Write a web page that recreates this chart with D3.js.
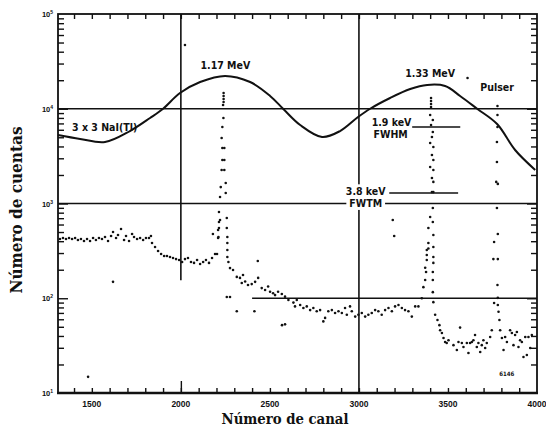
<!DOCTYPE html>
<html>
<head>
<meta charset="utf-8">
<script src="https://d3js.org/d3.v7.min.js"></script>
<style>
body { margin: 0; background: #fff; }
</style>
</head>
<body>
<svg id="chart" width="546" height="438"></svg>
<script>
// channel / counts
var xLabels = [1500, 2000, 2500, 3000, 3500, 4000];
var decades = [1, 2, 3, 4, 5];

// 3x3 NaI(Tl) response, smooth line
var naiCurve = [
  [1310, 5280], [1434, 4800], [1574, 4460], [1714, 5820], [1827, 7990],
  [1900, 10000], [1995, 14650], [2108, 19140], [2248, 22200], [2389, 19140],
  [2501, 13650], [2574, 10000], [2670, 6730], [2793, 5030], [2894, 5820],
  [2995, 8180], [3063, 10000], [3175, 12980], [3288, 16140], [3383, 17830],
  [3484, 17380], [3568, 13650], [3664, 10000], [3776, 6900], [3877, 3670],
  [3990, 2260]
];

// HPGe points
var continuum = [
  [1321,422],[1338,432],[1355,422],[1372,432],[1389,422],[1406,432],[1422,412],[1439,422],
  [1456,402],[1473,422],[1490,402],[1507,432],[1523,412],[1540,432],[1557,422],[1574,443],
  [1591,402],[1608,454],[1619,500],[1636,432],[1647,465],[1664,538],[1681,412],[1692,454],
  [1709,402],[1726,476],[1737,443],[1754,422],[1771,432],[1788,412],[1804,432],[1821,432],
  [1832,454],[1838,383],[1855,348],[1872,315],[1889,293],[1906,279],[1922,279],[1939,272],
  [1956,266],[1973,259],[1990,253],[2007,241],[2023,259],[2040,266],[2057,241],[2074,236],
  [2091,253],[2108,230],[2125,241],[2141,253],[2158,236],[2175,266],[2192,293],[2203,293],
  [2180,476],[2214,638],[2209,525],[2209,432],
  [2276,208],[2293,199],[2314,168],[2332,164],[2349,176],[2342,145],[2361,150],[2377,138],
  [2398,141],[2417,149],[2434,164],[2432,247],[2454,128],[2473,122],[2490,133],[2501,117],
  [2518,113],[2529,108],[2546,117],[2567,111],[2585,104],[2604,96],[2632,90],[2651,96],
  [2641,82],[2670,85],[2688,79],[2707,82],[2726,75],[2744,79],[2763,73],[2782,75],
  [2800,57],[2810,62],[2828,73],[2848,75],[2866,70],[2885,73],[2904,70],[2922,79],
  [2932,67],[2950,82],[2960,73],[2979,64],[2997,67],[3016,70],[3035,64],[3053,67],
  [3072,70],[3091,75],[3109,73],[3128,67],[3147,75],[3166,79],[3185,73],[3203,82],
  [3222,85],[3241,79],[3259,75],[3278,73],[3297,64],[3316,82],[3334,82],[3353,100],
  [3428,67],[3441,59],[3452,52],[3456,46],[3466,43],[3475,38],[3484,34.5],[3493,33.7],
  [3503,36],[3531,32],[3550,28.4],[3559,34.5],[3568,49],[3578,33.7],[3587,30.6],[3606,33.7],
  [3615,26.4],[3624,33.7],[3634,34.5],[3643,36],[3652,41],[3662,30.6],[3671,33.7],[3681,27.1],
  [3690,32],[3699,36],[3709,29.8],[3718,33.7],[3737,39],[3746,46],
  [3793,46],[3803,38],[3812,28.4],[3821,39],[3831,34.5],[3849,46],[3859,43],[3868,32],
  [3877,41],[3887,44],[3896,30.6],[3905,36],[3915,34.5],[3924,24],[3934,39],[3943,25.2],
  [3952,39],[3962,29.8],[3971,41]
];

var peak117 = [
  [2240,14650],[2240,13650],[2240,12680],[2240,11780],[2237,10960],[2239,7990],[2233,6410],
  [2229,4910],[2233,3850],[2244,3850],[2233,2880],[2244,2880],[2229,2260],[2244,2260],
  [2224,1490],[2252,1645],[2220,1170],[2252,1290],[2214,813],[2220,670],[2258,703],
  [2214,551],[2258,551],[2211,443],[2261,443],[2261,383],[2261,323],[2261,272],[2267,241]
];

var peak133 = [
  [3405,12980],[3405,12070],[3405,11220],[3405,10430],[3400,8590],[3415,7600],[3405,6730],
  [3415,5690],[3410,5030],[3400,4350],[3418,3950],[3410,3250],[3418,2880],[3400,2430],
  [3418,2260],[3410,1860],[3418,1690],[3410,1320],[3418,1320],[3415,898],[3400,720],
  [3415,638],[3390,551],[3418,465],[3390,383],[3418,348],[3381,323],[3418,272],[3381,253],
  [3418,236],[3377,189],[3415,189],[3372,156],[3415,156],[3362,131],[3415,116],[3418,91],
  [3372,210],[3381,286],[3390,335]
];

var pulser = [
  [3778,10690],[3778,8590],[3778,6410],[3775,4460],[3775,2740],[3771,1690],[3780,1610],
  [3775,898],[3780,476],[3759,393],[3755,259],[3780,259],[3778,138],[3759,89],[3780,101],
  [3780,85],[3784,72],[3789,59]
];

var strays = [
  [2258,103],[2276,103],[2314,73],[2413,73],[2568,52],[2585,53],[1479,14.8],[1619,149],
  [2023,47100],[3610,21100],[3190,670],[3198,454]
];

var fwhmSpan = [3299, 3569], fwhmLevel = 6410;
var fwtmSpan = [3158, 3557], fwtmLevel = 1290;

var svg = d3.select('#chart');
var x = d3.scaleLinear().domain([1310, 4000]).range([58, 537]);
var y = d3.scaleLog().domain([10, 100000]).range([393, 14]);

svg.append('rect').attr('width', 546).attr('height', 438).attr('fill', '#fff');

var ink = '#111';
var sw = 1.6;

// grid lines
function hline(v, c0, c1) {
  svg.append('line')
     .attr('x1', x(c0)).attr('x2', x(c1))
     .attr('y1', y(v)).attr('y2', y(v))
     .attr('stroke', ink).attr('stroke-width', sw);
}
function vline(c, v0, v1) {
  svg.append('line')
     .attr('x1', x(c)).attr('x2', x(c))
     .attr('y1', y(v0)).attr('y2', y(v1))
     .attr('stroke', ink).attr('stroke-width', sw);
}
hline(10000, 1310, 4000);
hline(1000, 1310, 4000);
hline(100, 2400, 4000);
vline(2000, 100000, 155);
vline(3000, 100000, 10);

// ticks
var minorX = d3.range(1400, 4000, 100);
var minorY = [];
[10, 100, 1000, 10000].forEach(function (d) {
  for (var m = 2; m <= 9; m++) minorY.push(d * m);
});

svg.append('g').attr('transform', 'translate(0,393)')
   .call(d3.axisBottom(x).tickValues(minorX).tickSize(-5).tickFormat(''));
svg.append('g').attr('transform', 'translate(0,14)')
   .call(d3.axisTop(x).tickValues(minorX).tickSize(-5).tickFormat(''));
svg.append('g').attr('transform', 'translate(58,0)')
   .call(d3.axisLeft(y).tickValues(minorY).tickSize(-6).tickFormat(''));
svg.append('g').attr('transform', 'translate(537,0)')
   .call(d3.axisRight(y).tickValues(minorY).tickSize(-6).tickFormat(''));
svg.append('g').attr('transform', 'translate(58,0)')
   .call(d3.axisLeft(y).tickValues([100, 1000, 10000]).tickSize(-10).tickFormat(''));
svg.append('g').attr('transform', 'translate(537,0)')
   .call(d3.axisRight(y).tickValues([100, 1000, 10000]).tickSize(-10).tickFormat(''));
svg.append('g').attr('transform', 'translate(0,393)')
   .call(d3.axisBottom(x).tickValues([2000]).tickSize(-12).tickFormat(''));
svg.selectAll('.domain').remove();
svg.selectAll('.tick line').attr('stroke', ink).attr('stroke-width', 1.4);

// frame
svg.append('rect')
   .attr('x', 58).attr('y', 14).attr('width', 479).attr('height', 379)
   .attr('fill', 'none').attr('stroke', ink).attr('stroke-width', 1.8);
svg.append('line')
   .attr('x1', 57).attr('x2', 538).attr('y1', 393).attr('y2', 393)
   .attr('stroke', ink).attr('stroke-width', 2.6);

// tick labels
svg.selectAll('.xlab').data(xLabels).enter().append('text')
   .attr('x', function (d) { return x(d); })
   .attr('y', 407)
   .attr('text-anchor', 'middle')
   .attr('font-family', 'Liberation Sans, Arial, sans-serif')
   .attr('font-weight', 'bold')
   .attr('font-size', 8.5)
   .attr('fill', ink)
   .text(function (d) { return d; });

var ylab = svg.selectAll('.ylab').data(decades).enter().append('text')
   .attr('x', 53)
   .attr('y', function (d) { return y(Math.pow(10, d)) + 3; })
   .attr('text-anchor', 'end')
   .attr('font-family', 'Liberation Sans, Arial, sans-serif')
   .attr('font-weight', 'bold')
   .attr('font-size', 7.5)
   .attr('fill', ink);
ylab.append('tspan').text('10');
ylab.append('tspan').attr('dy', -3).attr('font-size', 5).text(function (d) { return d; });

// NaI curve
var line = d3.line()
   .x(function (d) { return x(d[0]); })
   .y(function (d) { return y(d[1]); })
   .curve(d3.curveCatmullRom);
svg.append('path')
   .datum(naiCurve)
   .attr('d', line)
   .attr('fill', 'none')
   .attr('stroke', ink)
   .attr('stroke-width', 2);

// HPGe points
var allDots = continuum.concat(peak117, peak133, pulser, strays);
svg.selectAll('.dot').data(allDots).enter().append('circle')
   .attr('cx', function (d) { return x(d[0]); })
   .attr('cy', function (d) { return y(d[1]); })
   .attr('r', 1.3)
   .attr('fill', ink);

// width markers
svg.append('line')
   .attr('x1', x(fwhmSpan[0])).attr('x2', x(fwhmSpan[1]))
   .attr('y1', y(fwhmLevel)).attr('y2', y(fwhmLevel))
   .attr('stroke', ink).attr('stroke-width', 1.4);
svg.append('line')
   .attr('x1', x(fwtmSpan[0])).attr('x2', x(fwtmSpan[1]))
   .attr('y1', y(fwtmLevel)).attr('y2', y(fwtmLevel))
   .attr('stroke', ink).attr('stroke-width', 1.4);

// annotations
var labFont = 'Liberation Sans Narrow, Arial Narrow, DejaVu Sans Condensed, sans-serif';
function note(txt, c, v, anchor, size, knock) {
  var t = svg.append('text')
     .attr('x', x(c)).attr('y', y(v))
     .attr('text-anchor', anchor || 'middle')
     .attr('font-family', labFont)
     .attr('font-weight', 'bold')
     .attr('font-size', size || 10.5)
     .attr('fill', ink)
     .text(txt);
  if (knock) {
    var b = t.node().getBBox();
    svg.insert('rect', function () { return t.node(); })
       .attr('x', b.x - 3).attr('y', b.y - 1)
       .attr('width', b.width + 6).attr('height', b.height + 2)
       .attr('fill', '#fff');
  }
  return t;
}
note('1.17 MeV', 2250, 26000);
note('1.33 MeV', 3400, 21600);
note('Pulser', 3776, 15400);
note('3 x 3 NaI(Tl)', 1389, 5820, 'start');
note('1.9 keV', 3183, 6600);
note('FWHM', 3178, 4900);
note('3.8 keV', 3038, 1220, 'middle', 10.5, true);
note('FWTM', 3038, 920, 'middle', 10.5, true);
note('6146', 3830, 15.2, 'middle', 6);

// axis titles
svg.append('text')
   .attr('x', 285).attr('y', 424)
   .attr('text-anchor', 'middle')
   .attr('font-family', 'DejaVu Serif, serif')
   .attr('font-weight', 'bold')
   .attr('font-size', 15)
   .attr('textLength', 127).attr('lengthAdjust', 'spacingAndGlyphs')
   .attr('fill', ink)
   .text('Número de canal');
svg.append('text')
   .attr('transform', 'translate(22,210) rotate(-90)')
   .attr('text-anchor', 'middle')
   .attr('font-family', 'DejaVu Serif, serif')
   .attr('font-weight', 'bold')
   .attr('font-size', 16)
   .attr('textLength', 167).attr('lengthAdjust', 'spacingAndGlyphs')
   .attr('fill', ink)
   .text('Número de cuentas');
</script>
</body>
</html>
